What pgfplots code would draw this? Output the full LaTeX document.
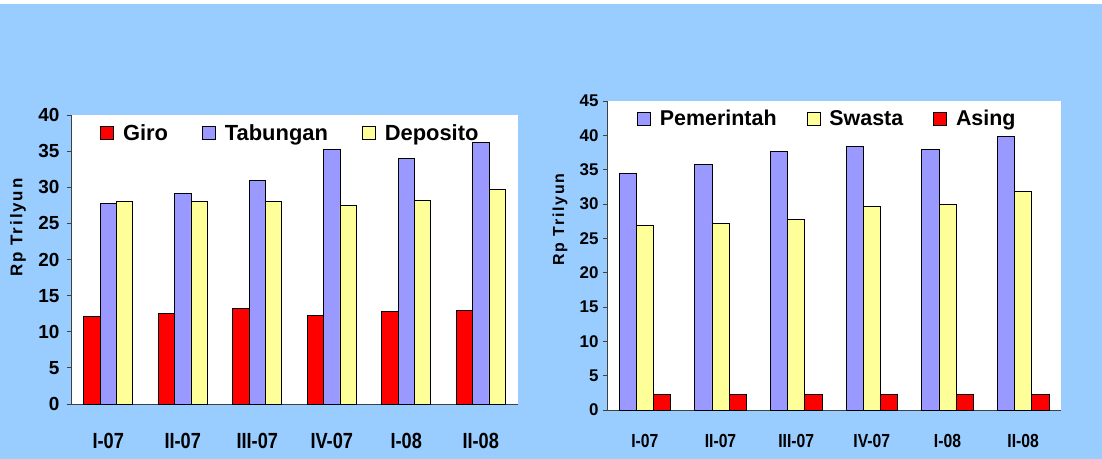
\documentclass[border=0pt]{standalone}
\usepackage{pgfplots}
\usepackage{pgfplotstable}
\pgfplotsset{compat=1.18}
\usepackage{fontspec}
\setmainfont{Liberation Sans}
\newfontfamily\narrowsans[FakeStretch=0.83]{Liberation Sans}
\newfontfamily\spacedsans[LetterSpace=11]{Liberation Sans}

\definecolor{bgblue}{HTML}{99CCFF}
\definecolor{barred}{HTML}{FF0000}
\definecolor{barblue}{HTML}{9999FF}
\definecolor{baryellow}{HTML}{FFFF99}
\definecolor{axisgray}{HTML}{404040}

% Dana menurut jenis simpanan (Rp triliun)
\pgfplotstableread{
idx giro tabungan deposito
0   12.1 27.7     28.0
1   12.5 29.2     28.0
2   13.2 30.9     28.0
3   12.3 35.2     27.5
4   12.8 34.0     28.2
5   13.0 36.2     29.7
}\jenis

% Dana menurut golongan pemilik (Rp triliun)
\pgfplotstableread{
idx pemerintah swasta asing
0   34.5       26.9   2.2
1   35.8       27.2   2.2
2   37.7       27.7   2.2
3   38.4       29.6   2.2
4   37.9       29.9   2.2
5   39.8       31.9   2.2
}\pemilik

\pgfplotsset{
  quarterly/.style={
    scale only axis,
    axis background/.style={fill=white},
    axis lines*=left,
    axis line style={axisgray, line width=0.9bp},
    ybar=0pt,
    xmin=-0.5, xmax=5.5, ymin=0,
    xtick={0,...,5},
    xticklabels={I-07,II-07,III-07,IV-07,I-08,II-08},
    x tick style={draw=none},
    minor xtick={-0.5,0.5,...,5.5},
    minor x tick style={axisgray, line width=0.9bp},
    y tick style={axisgray, line width=0.9bp},
    tick align=outside,
    major tick length=4bp,
    minor tick length=5bp,
    /pgf/number format/assume math mode=true,
    legend columns=-1,
    legend style={draw=none, fill=none, inner sep=0pt, anchor=west,
      font=\bfseries\fontsize{22}{22}\selectfont,
      /tikz/every even column/.append style={column sep=32bp},
      /tikz/every odd column/.append style={column sep=7bp}},
    legend image code/.code={\draw[##1, line width=0.8bp] (0bp,-6.5bp) rectangle (13bp,6.5bp);},
    clip=false,
  },
  bars/.style={fill=#1, draw=black, line width=0.8bp},
}

\begin{document}
\begin{tikzpicture}
\fill[bgblue] (0,0) rectangle (1102bp,459bp);
\fill[white] (0,455bp) rectangle (1102bp,459bp);

\begin{axis}[quarterly,
  at={(71bp,55bp)}, anchor=south west,
  width=447bp, height=289bp,
  ymax=40, ytick={0,5,...,40},
  bar width=16.4bp,
  yticklabel style={font=\bfseries\fontsize{19}{19}\selectfont, xshift=-4bp},
  xticklabel style={font=\narrowsans\bfseries\fontsize{22}{22}\selectfont, anchor=center, yshift=-33bp},
  ylabel={\spacedsans\bfseries Rp Trilyun},
  ylabel style={at={(axis description cs:-0.1186,0.611)}, anchor=center, font=\fontsize{17}{17}\selectfont},
  legend style={at={(axis description cs:0.065,0.938)}},
]
\addplot[bars=barred] table[x=idx, y=giro] {\jenis};
\addplot[bars=barblue] table[x=idx, y=tabungan] {\jenis};
\addplot[bars=baryellow] table[x=idx, y=deposito] {\jenis};
\legend{Giro, Tabungan, Deposito}
\end{axis}

\begin{axis}[quarterly,
  at={(607bp,49bp)}, anchor=south west,
  width=454bp, height=309bp,
  ymax=45, ytick={0,5,...,45},
  bar width=17.2bp,
  yticklabel style={font=\bfseries\fontsize{17}{17}\selectfont, xshift=-1bp},
  xticklabel style={font=\narrowsans\bfseries\fontsize{19}{19}\selectfont, anchor=center, yshift=-27bp},
  ylabel={\spacedsans\bfseries Rp Trilyun},
  ylabel style={at={(axis description cs:-0.1035,0.6165)}, anchor=center, font=\fontsize{16}{16}\selectfont},
  legend style={at={(axis description cs:0.066,0.942)},
    font=\bfseries\fontsize{21.5}{21.5}\selectfont,
    /tikz/every even column/.append style={column sep=28bp}},
]
\addplot[bars=barblue] table[x=idx, y=pemerintah] {\pemilik};
\addplot[bars=baryellow] table[x=idx, y=swasta] {\pemilik};
\addplot[bars=barred] table[x=idx, y=asing] {\pemilik};
\legend{Pemerintah, Swasta, Asing}
\end{axis}

\pgfresetboundingbox
\useasboundingbox (0,0) rectangle (1102bp,459bp);
\end{tikzpicture}
\end{document}
